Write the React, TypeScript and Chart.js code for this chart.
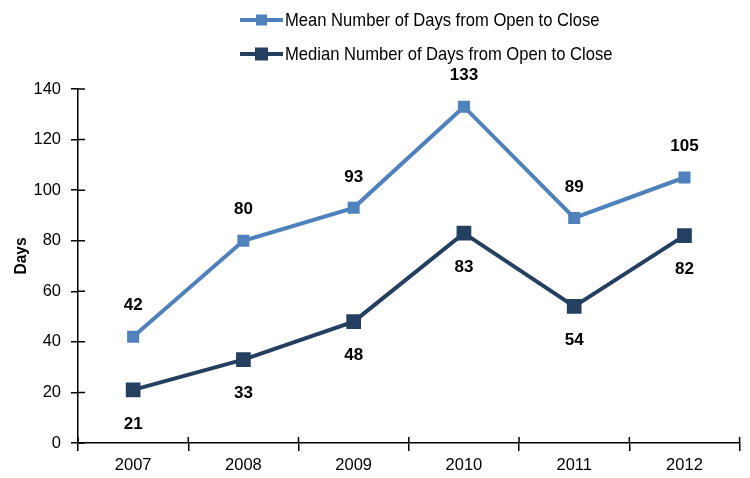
import React, { useEffect, useRef } from "react";
import { Chart, registerables } from "chart.js";
Chart.register(...registerables);

const years = ["2007", "2008", "2009", "2010", "2011", "2012"];
const meanDays = [42, 80, 93, 133, 89, 105];
const medianDays = [21, 33, 48, 83, 54, 82];
const seriesNames = [
  "Mean Number of Days from Open to Close",
  "Median Number of Days from Open to Close",
];
const seriesColors = ["#4F81BD", "#243F60"];
const yMin = 0;
const yMax = 140;
const yStep = 20;
const yTitle = "Days";

const FONT = "'Liberation Sans', Arial, sans-serif";

const labelPlugin = {
  id: "valueLabels",
  afterDatasetsDraw(chart: any) {
    const ctx = chart.ctx;
    ctx.save();
    ctx.font = `bold 17px ${FONT}`;
    ctx.fillStyle = "#000";
    ctx.textAlign = "center";
    ctx.textBaseline = "middle";
    chart.data.datasets.forEach((ds: any, di: number) => {
      const meta = chart.getDatasetMeta(di);
      meta.data.forEach((pt: any, i: number) => {
        const dy = di === 0 ? -31 : 34;
        ctx.fillText(String(ds.data[i]), pt.x, pt.y + dy);
      });
    });
    ctx.restore();
  },
};

const axisPlugin = {
  id: "axisExtras",
  afterDraw(chart: any) {
    const ctx = chart.ctx;
    const { left, bottom } = chart.chartArea;
    const xs = chart.scales.x;
    const ys = chart.scales.y;
    ctx.save();
    ctx.strokeStyle = "#000";
    ctx.lineWidth = 1.5;
    ctx.beginPath();
    ys.ticks.forEach((t: any) => {
      const y = ys.getPixelForValue(t.value);
      ctx.moveTo(left, y);
      ctx.lineTo(left + 7, y);
    });
    for (let i = 0; i <= years.length; i++) {
      const x = xs.left + (i * (xs.right - xs.left)) / years.length;
      ctx.moveTo(x, bottom);
      ctx.lineTo(x, bottom - 6);
    }
    ctx.stroke();
    // y title
    ctx.fillStyle = "#000";
    ctx.font = `bold 15.5px ${FONT}`;
    ctx.textAlign = "center";
    ctx.textBaseline = "middle";
    ctx.translate(21, 256);
    ctx.rotate(-Math.PI / 2);
    ctx.scale(1, 1.1);
    ctx.fillText(yTitle, 0, 0);
    ctx.restore();
  },
};

const legendPlugin = {
  id: "customLegend",
  afterDraw(chart: any) {
    const ctx = chart.ctx;
    ctx.save();
    const x0 = 240;
    const rows = [20, 54];
    chart.data.datasets.forEach((ds: any, di: number) => {
      const y = rows[di];
      ctx.strokeStyle = ds.borderColor;
      ctx.lineWidth = 4;
      ctx.beginPath();
      ctx.moveTo(x0, y);
      ctx.lineTo(x0 + 43, y);
      ctx.stroke();
      const s = di === 0 ? 11 : 13;
      ctx.fillStyle = ds.backgroundColor;
      ctx.fillRect(x0 + 21.5 - s / 2, y - s / 2, s, s);
      ctx.fillStyle = "#000";
      ctx.font = `16.6px ${FONT}`;
      ctx.textAlign = "left";
      ctx.textBaseline = "middle";
      ctx.save();
      ctx.translate(x0 + 45, y + 1);
      ctx.scale(1, 1.12);
      ctx.fillText(ds.label, 0, 0);
      ctx.restore();
    });
    ctx.restore();
  },
};

export default function App() {
  const ref = useRef<HTMLCanvasElement>(null);
  useEffect(() => {
    document.body.style.margin = "0";
    const chart = new Chart(ref.current!, {
      type: "line",
      data: {
        labels: years,
        datasets: [
          {
            label: seriesNames[0],
            data: meanDays,
            borderColor: seriesColors[0],
            backgroundColor: seriesColors[0],
            borderWidth: 4,
            pointStyle: "rect",
            pointRadius: 8.5,
            pointBorderWidth: 0,
            tension: 0,
          },
          {
            label: seriesNames[1],
            data: medianDays,
            borderColor: seriesColors[1],
            backgroundColor: seriesColors[1],
            borderWidth: 4,
            pointStyle: "rect",
            pointRadius: 10.4,
            pointBorderWidth: 0,
            tension: 0,
          },
        ],
      },
      options: {
        responsive: false,
        animation: false,
        layout: { padding: { top: 89, right: 8, left: 0, bottom: 0 } },
        plugins: {
          legend: { display: false },
          tooltip: { enabled: false },
        },
        scales: {
          x: {
            type: "category",
            offset: true,
            grid: {
              display: true,
              drawOnChartArea: false,
              offset: true,
              tickLength: 8,
              color: "#000",
              lineWidth: 1.5,
            },
            border: { color: "#000", width: 1.5 },
            ticks: { color: "#000", font: { family: FONT, size: 16.5 }, padding: 5 },
            afterFit: (s: any) => {
              s.height = 35;
            },
          },
          y: {
            min: yMin,
            max: yMax,
            ticks: {
              stepSize: yStep,
              color: "#000",
              font: { family: FONT, size: 16.5 },
              padding: 10,
            },
            grid: {
              display: true,
              drawOnChartArea: false,
              tickLength: 7,
              color: "#000",
              lineWidth: 1.5,
            },
            border: { color: "#000", width: 1.5 },
            afterFit: (s: any) => {
              s.width = 78;
            },
          },
        },
      },
      plugins: [labelPlugin, axisPlugin, legendPlugin],
    });
    return () => chart.destroy();
  }, []);
  return <canvas ref={ref} width={750} height={478} />;
}
